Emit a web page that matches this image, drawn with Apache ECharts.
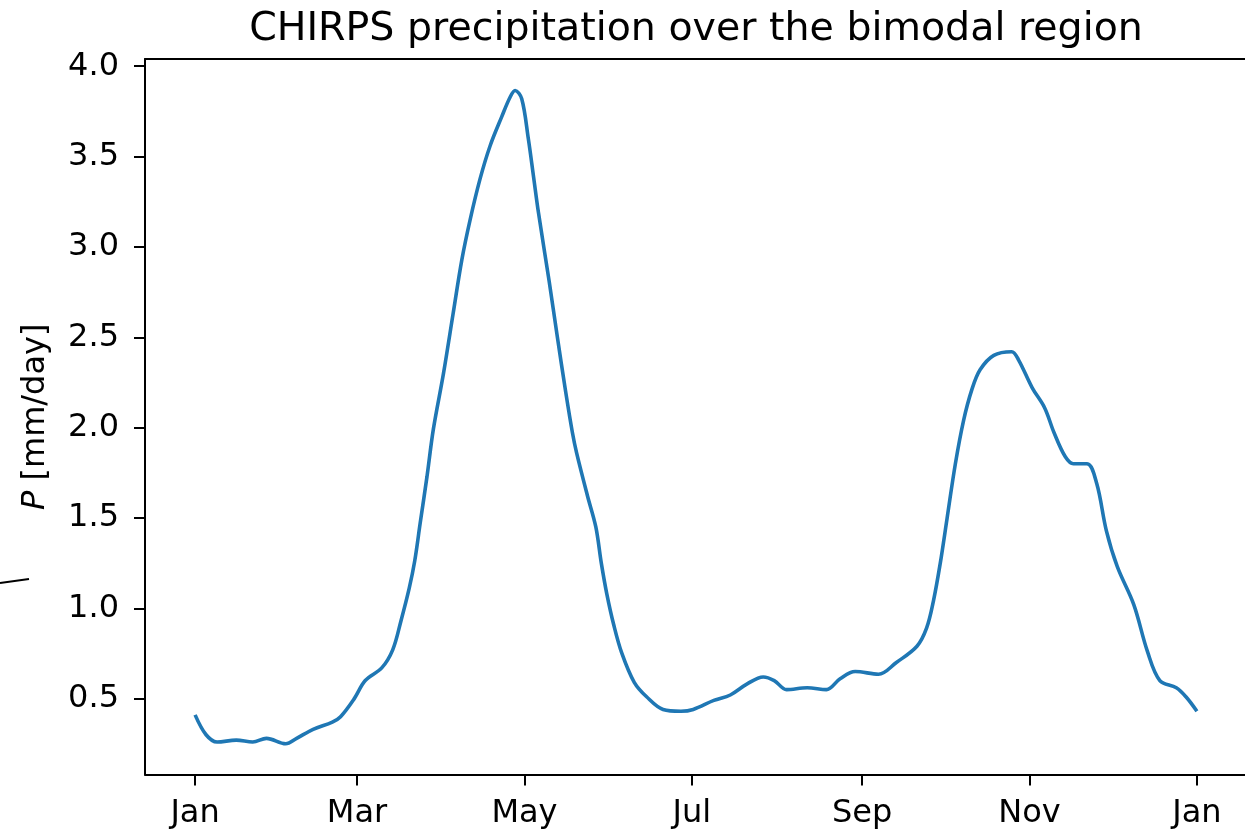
<!DOCTYPE html>
<html>
<head>
<meta charset="utf-8">
<script src="https://cdn.jsdelivr.net/npm/echarts@6/dist/echarts.min.js"></script>
<style>
  html, body { margin: 0; padding: 0; background: #fff; }
  #main { width: 1245px; height: 839px; }
</style>
</head>
<body>
<div id="main"></div>
<script>
// day of year (0 = 1 Jan) and mean precipitation [mm/day]
var days = [0, 4, 8, 15, 21, 26, 33, 37, 43, 50, 53, 58, 62, 68, 72, 75, 78, 80, 82, 84.5,
  86.8, 90.5, 94, 97.2, 100.2, 103.8, 107.5, 111.7, 114.8, 116.6, 119, 121.4, 123.3, 125.1,
  129, 132, 135, 137.5, 139, 143, 146, 148, 150, 152.5, 155.5, 160, 164.5, 170.5, 177,
  181.5, 189, 195, 201, 207, 211, 215.5, 223, 230, 235, 240.5, 249, 255.5, 263, 266.5,
  269, 271.5, 274, 277, 280, 283, 286, 291, 297.5, 300, 305, 309.5, 313, 317, 320, 325,
  328.5, 332, 336, 342, 347, 351.5, 357.5, 361, 365]
var precip = [0.41, 0.30, 0.26, 0.27, 0.26, 0.28, 0.25, 0.28, 0.33, 0.37, 0.40, 0.50, 0.60,
  0.67, 0.77, 0.93, 1.11, 1.26, 1.47, 1.73, 1.99, 2.30, 2.63, 2.93, 3.15, 3.375, 3.56, 3.72,
  3.83, 3.866, 3.82, 3.60, 3.39, 3.19, 2.81, 2.50, 2.20, 1.97, 1.86, 1.62, 1.45, 1.25, 1.08,
  0.91, 0.75, 0.59, 0.51, 0.44, 0.43, 0.44, 0.49, 0.52, 0.58, 0.62, 0.60, 0.55, 0.56, 0.55,
  0.61, 0.65, 0.635, 0.70, 0.79, 0.89, 1.04, 1.25, 1.50, 1.80, 2.04, 2.21, 2.32, 2.40, 2.42,
  2.375, 2.22, 2.11, 1.97, 1.84, 1.80, 1.80, 1.69, 1.43, 1.23, 1.02, 0.76, 0.60, 0.56, 0.51, 0.43]

// x tick positions and labels
var monthDays = [0, 59, 120, 181, 243, 304, 365]
var monthNames = ['Jan', 'Mar', 'May', 'Jul', 'Sep', 'Nov', 'Jan']
var yTicks = [0.5, 1.0, 1.5, 2.0, 2.5, 3.0, 3.5, 4.0]

var font = 'DejaVu Sans'
var seriesData = days.map(function (d, i) { return [d, precip[i]] })
var xMin = -18.25, xMax = 383.25

var myChart = echarts.init(document.getElementById('main'))
var option = {
  animation: false,
  backgroundColor: '#fff',
  title: {
    text: 'CHIRPS precipitation over the bimodal region',
    left: 691,
    textAlign: 'center',
    top: 5,
    textStyle: { fontFamily: font, fontSize: 39.5, fontWeight: 'normal', color: '#000' }
  },
  grid: {
    left: 145, right: -2, top: 59, bottom: 64.5,
    outerBoundsMode: 'none'
  },
  xAxis: [{
    type: 'value',
    min: xMin,
    max: xMax,
    splitLine: { show: false },
    axisLine: { onZero: false, lineStyle: { color: '#000', width: 2 } },
    axisTick: { customValues: monthDays, length: 11, lineStyle: { color: '#000', width: 2 } },
    axisLabel: {
      customValues: monthDays,
      margin: 23,
      fontFamily: font, fontSize: 32, color: '#000',
      formatter: function (v) { return monthNames[monthDays.indexOf(v)] }
    }
  }, {
    // top spine only
    type: 'value',
    position: 'top',
    min: xMin,
    max: xMax,
    splitLine: { show: false },
    axisLine: { onZero: false, lineStyle: { color: '#000', width: 2 } },
    axisTick: { show: false },
    axisLabel: { show: false }
  }],
  yAxis: {
    type: 'value',
    min: 0.08,
    max: 4.04,
    name: '{i|P} [mm/day]',
    nameLocation: 'middle',
    nameRotate: 90,
    nameGap: 93,
    nameTextStyle: {
      fontFamily: font, fontSize: 32, color: '#000',
      rich: { i: { fontFamily: font, fontSize: 32, fontStyle: 'italic', color: '#000' } }
    },
    splitLine: { show: false },
    axisLine: { onZero: false, lineStyle: { color: '#000', width: 2 } },
    axisTick: { customValues: yTicks, length: 11, lineStyle: { color: '#000', width: 2 } },
    axisLabel: {
      customValues: yTicks,
      margin: 26,
      fontFamily: font, fontSize: 32, color: '#000',
      formatter: function (v) { return v.toFixed(1) }
    }
  },
  graphic: [{
    type: 'line',
    shape: { x1: 0, y1: 583, x2: 29, y2: 579 },
    style: { stroke: '#000', lineWidth: 2 }
  }],
  series: [{
    type: 'line',
    xAxisIndex: 0,
    data: seriesData,
    smooth: 0.35,
    showSymbol: false,
    lineStyle: { color: '#1f77b4', width: 3.6 }
  }]
}
myChart.setOption(option)
</script>
</body>
</html>
